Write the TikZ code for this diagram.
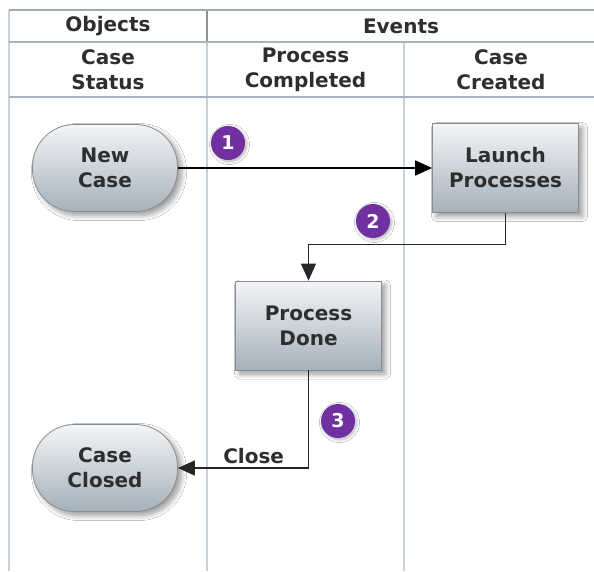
\documentclass[tikz,border=0pt]{standalone}
\usepackage{fontspec}
\setmainfont{DejaVu Sans}
\usetikzlibrary{arrows.meta,shadows.blur}
\definecolor{lanec}{HTML}{C9D2DA}
\definecolor{rowc}{HTML}{AAB4BE}
\definecolor{hdrc}{HTML}{8E9296}
\definecolor{badgec}{HTML}{7030A0}
\definecolor{inkc}{HTML}{2E2E2E}
\definecolor{edgec}{HTML}{8C8C8C}
\definecolor{topc}{HTML}{F3F5F7}
\definecolor{botc}{HTML}{A5B1BB}
\begin{document}
\begin{tikzpicture}[x=1pt,y=-1pt,
  txt/.style={font=\fontsize{20}{25}\selectfont\bfseries, text=inkc, align=center},
  boxbase/.style={txt, draw=edgec, line width=0.8pt, top color=topc, bottom color=botc,
    blur shadow={shadow xshift=4pt, shadow yshift=-4pt, shadow opacity=40, shadow blur radius=5pt, shadow blur steps=10}},
  taskbox/.style={boxbase, rectangle, minimum width=146pt, minimum height=89pt, inner sep=0pt},
  statebox/.style={boxbase, rectangle, rounded corners=42pt, minimum width=145pt, minimum height=87pt, inner sep=0pt},
  badgestyle/.style={circle, fill=badgec, minimum size=34pt, inner sep=0pt, text=white,
    font=\fontsize{19}{19}\selectfont\bfseries,
    blur shadow={shadow xshift=1.5pt, shadow yshift=-1.5pt, shadow opacity=30, shadow blur radius=3pt, shadow blur steps=8}},
  conn/.style={draw=black!85, line width=1.3pt, -{Triangle[length=17pt,width=15pt]}},
  laneline/.style={draw=lanec, line width=2pt},
  rowline/.style={draw=rowc, line width=2pt},
  hdrline/.style={draw=hdrc, line width=1.5pt}
]
\useasboundingbox (0,0) rectangle (594,571);
\fill[white] (0,0) rectangle (594,571);
% swimlane grid
\draw[laneline] (8.5,10) -- (8.5,571);
\draw[laneline] (207,42) -- (207,571);
\draw[laneline] (404,42) -- (404,571);
\draw[hdrline] (207,10) -- (207,42);
\draw[draw=rowc!80!gray, line width=1.5pt] (8.5,10) -- (594,10);
\draw[rowline] (8.5,42) -- (594,42);
\draw[rowline] (8.5,97) -- (594,97);
% headers
\node[txt] (hobj) at (108,26) {Objects};
\node[txt] (hev) at (401,26) {Events};
\node[txt] (hcs) at (108,69.5) {Case\\Status};
\node[txt] (hpc) at (305.5,69.5) {Process\\Completed};
\node[txt] (hcc) at (501,69.5) {Case\\Created};
% nodes
\node[statebox] (nc) at (105,168) {New\\Case};
\node[taskbox] (lp) at (505.5,168) {Launch\\Processes};
\node[taskbox] (pd) at (308.5,325.5) {Process\\Done};
\node[statebox] (cc) at (105,468) {Case\\Closed};
% connectors
\draw[conn, line width=2pt, draw=black] (nc) -- (lp);
\draw[conn] (lp.south) -- ++(0,31.5) -| (pd.north);
\draw[conn] (pd.south) |- node[pos=0.71, above, txt, inner sep=4pt] (lclose) {Close} (cc.east);
% badges
\node[badgestyle] (b1) at (228,143) {1};
\node[badgestyle] (b2) at (373,221) {2};
\node[badgestyle] (b3) at (338,421) {3};
\end{tikzpicture}
\end{document}
